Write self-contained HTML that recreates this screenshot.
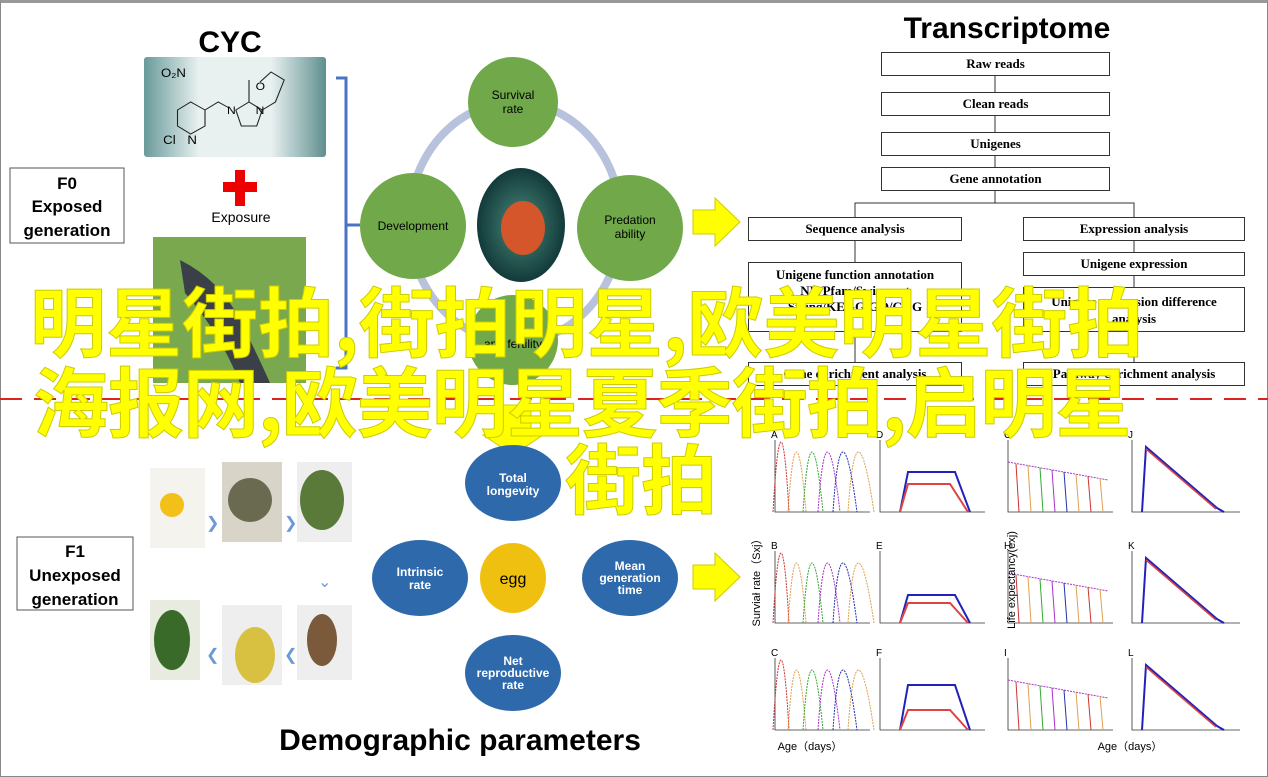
<!DOCTYPE html>
<html><head><meta charset="utf-8"><style>
body{margin:0;width:1268px;height:775px;background:#fff;overflow:hidden;position:relative;font-family:"Liberation Sans",sans-serif}
.a{position:absolute}
.bx{position:absolute;border:1px solid #333;background:#fff;font-family:"Liberation Serif",serif;font-size:13px;font-weight:bold;text-align:center;box-sizing:border-box}
.ov{position:absolute;color:#ffff00;font-family:"Noto Sans CJK SC","WenQuanYi Zen Hei",sans-serif;font-weight:bold;font-size:76px;white-space:nowrap;line-height:1;-webkit-text-stroke:1px #cc0}
</style></head><body>
<div class="a" style="left:0;top:0;width:1266px;height:773px;border:1px solid #888;border-top:3px solid #999"></div>
<svg class="a" style="left:0;top:0" width="1268" height="775">
<defs><linearGradient id="tg" x1="0" x2="1"><stop offset="0" stop-color="#6a9a9a"/><stop offset=".3" stop-color="#e8f0f0"/><stop offset=".7" stop-color="#e8f0f0"/><stop offset="1" stop-color="#5f8f8f"/></linearGradient>
<radialGradient id="lb"><stop offset="0" stop-color="#4a8a7a"/><stop offset="1" stop-color="#123a3a"/></radialGradient></defs>
<text x="230" y="52" font-size="30" font-weight="bold" text-anchor="middle">CYC</text>
<rect x="144" y="57" width="182" height="100" rx="3" fill="url(#tg)"/>
<g transform="translate(40,0) scale(1.1,1)" >
<g stroke="#222" fill="none" stroke-width="1"><path d="M125 110 l12 -8 l13 8 l0 16 l-13 8 l-12 -8z M150 110 l12 -8 l10 6 M178 110 l12 -8 l12 8 l-5 16 l-14 0z M190 102 l0 -22 M202 110 l12 -8 l8 -22 l-12 -8 l-10 10"/></g>
<text x="112" y="144" font-size="12">Cl</text><text x="134" y="144" font-size="12">N</text><text x="110" y="77" font-size="12">O₂N</text><text x="170" y="114" font-size="11">N</text><text x="196" y="114" font-size="11">N</text><text x="196" y="90" font-size="11">O</text></g>
<rect x="10" y="168" width="114" height="75" fill="#fff" stroke="#555"/>
<text x="67" y="189" font-size="17" font-weight="bold" text-anchor="middle">F0</text>
<text x="67" y="212" font-size="17" font-weight="bold" text-anchor="middle">Exposed</text>
<text x="67" y="236" font-size="17" font-weight="bold" text-anchor="middle">generation</text>
<path d="M235 170h10v12h12v10h-12v14h-10v-14h-12v-10h12z" fill="#e00"/>
<text x="241" y="222" font-size="14" text-anchor="middle">Exposure</text>
<rect x="153" y="237" width="153" height="146" fill="#7aa84e"/>
<path d="M180 260 q40 20 60 60 q20 40 30 63 l-30 0 q-20 -50 -55 -90z" fill="#3a3f48"/>
<path d="M336 78 h10 v290 h-10 M346 225 h14" stroke="#4a74c0" stroke-width="3" fill="none"/>
<ellipse cx="515" cy="222" rx="106" ry="120" fill="none" stroke="#b8c2dc" stroke-width="8"/>
<g fill="#70a84a"><circle cx="513" cy="102" r="45"/><circle cx="413" cy="226" r="53"/><circle cx="630" cy="228" r="53"/><circle cx="513" cy="340" r="45"/></g>
<ellipse cx="521" cy="225" rx="44" ry="57" fill="url(#lb)"/>
<ellipse cx="523" cy="228" rx="22" ry="27" fill="#d4562a"/>
<g font-size="12" text-anchor="middle"><text x="513" y="99">Survival</text><text x="513" y="113">rate</text><text x="413" y="230">Development</text><text x="630" y="224">Predation</text><text x="630" y="238">ability</text><text x="513" y="348">and fertility</text></g>
<path d="M693 210h22v-12l25 24l-25 24v-12h-22z" fill="#ff0" stroke="#cc0"/>
<text x="1007" y="38" font-size="30" font-weight="bold" text-anchor="middle">Transcriptome</text>
<g stroke="#333" fill="none"><path d="M995 75v17M995 116v16M995 156v11M995 191v12H855v14M995 203H1134v14M855 241v21M1134 241v11M1134 276v11M855 332v30M1134 332v30"/></g>
<line x1="0" y1="399" x2="1268" y2="399" stroke="#d22" stroke-width="2" stroke-dasharray="22 12"/>
<path d="M495 405h36v30h12l-30 20l-30 -20h12z" fill="#ff0" stroke="#cc0"/>
<rect x="17" y="537" width="116" height="73" fill="#fff" stroke="#555"/>
<text x="75" y="557" font-size="17" font-weight="bold" text-anchor="middle">F1</text>
<text x="75" y="581" font-size="17" font-weight="bold" text-anchor="middle">Unexposed</text>
<text x="75" y="605" font-size="17" font-weight="bold" text-anchor="middle">generation</text>
<g><rect x="150" y="468" width="55" height="80" fill="#f5f3ee"/><circle cx="172" cy="505" r="12" fill="#f2c018"/>
<rect x="222" y="462" width="60" height="80" fill="#d8d4c8"/><circle cx="250" cy="500" r="22" fill="#6a6a50"/>
<rect x="297" y="462" width="55" height="80" fill="#eee"/><ellipse cx="322" cy="500" rx="22" ry="30" fill="#5a7a3a"/>
<rect x="150" y="600" width="50" height="80" fill="#e8ece0"/><ellipse cx="172" cy="640" rx="18" ry="30" fill="#3a6a2a"/>
<rect x="222" y="605" width="60" height="80" fill="#eee"/><ellipse cx="255" cy="655" rx="20" ry="28" fill="#d8c040"/>
<rect x="297" y="605" width="55" height="75" fill="#eee"/><ellipse cx="322" cy="640" rx="15" ry="26" fill="#7a5a3a"/></g>
<g fill="#6a9ad8" font-size="16"><text x="206" y="528">❯</text><text x="284" y="528">❯</text><text x="206" y="660">❮</text><text x="284" y="660">❮</text><text x="318" y="587">⌄</text></g>
<g fill="#2e6aab"><ellipse cx="513" cy="483" rx="48" ry="38"/><ellipse cx="420" cy="578" rx="48" ry="38"/><ellipse cx="630" cy="578" rx="48" ry="38"/><ellipse cx="513" cy="673" rx="48" ry="38"/></g>
<ellipse cx="513" cy="578" rx="33" ry="35" fill="#f0c010"/>
<g fill="#fff" font-size="12" font-weight="bold" text-anchor="middle"><text x="513" y="482">Total</text><text x="513" y="495">longevity</text><text x="420" y="576">Intrinsic</text><text x="420" y="589">rate</text><text x="630" y="570">Mean</text><text x="630" y="582">generation</text><text x="630" y="594">time</text><text x="513" y="665">Net</text><text x="513" y="677">reproductive</text><text x="513" y="689">rate</text></g>
<text x="513" y="584" font-size="16" text-anchor="middle">egg</text>
<path d="M693 565h22v-12l25 24l-25 24v-12h-22z" fill="#ff0" stroke="#cc0"/>
<text x="460" y="750" font-size="30" text-anchor="middle" font-weight="bold">Demographic parameters</text>
<g id="ch"></g>
<text x="810" y="750" font-size="11" text-anchor="middle">Age（days）</text>
<text x="1130" y="750" font-size="11" text-anchor="middle">Age（days）</text>
<text x="760" y="580" font-size="11" text-anchor="middle" transform="rotate(-90 760 580)">Surviał rate（Sxj）</text>
<text x="1015" y="580" font-size="11" text-anchor="middle" transform="rotate(-90 1015 580)">Life expectancy(exj)</text>
</svg>
<div class="bx" style="left:881px;top:52px;width:229px;height:24px;line-height:22px">Raw reads</div>
<div class="bx" style="left:881px;top:92px;width:229px;height:24px;line-height:22px">Clean reads</div>
<div class="bx" style="left:881px;top:132px;width:229px;height:24px;line-height:22px">Unigenes</div>
<div class="bx" style="left:881px;top:167px;width:229px;height:24px;line-height:22px">Gene annotation</div>
<div class="bx" style="left:748px;top:217px;width:214px;height:24px;line-height:22px">Sequence analysis</div>
<div class="bx" style="left:1023px;top:217px;width:222px;height:24px;line-height:22px">Expression analysis</div>
<div class="bx" style="left:748px;top:262px;width:214px;height:70px;padding-top:4px;line-height:16px">Unigene function annotation<br>NR/Pfam/Swissprot<br>String/KEGG/GO/COG</div>
<div class="bx" style="left:1023px;top:252px;width:222px;height:24px;line-height:22px">Unigene expression</div>
<div class="bx" style="left:1023px;top:287px;width:222px;height:45px;padding-top:5px;line-height:17px">Unigene expression difference<br>analysis</div>
<div class="bx" style="left:748px;top:362px;width:214px;height:24px;line-height:22px">Gene enrichment analysis</div>
<div class="bx" style="left:1023px;top:362px;width:222px;height:24px;line-height:22px">Pathway enrichment analysis</div>
<div class="ov" style="left:30px;top:280px;letter-spacing:0px">明星街拍,街拍明星,欧美明星街拍</div>
<div class="ov" style="left:33px;top:360px;letter-spacing:-1px">海报网,欧美明星夏季街拍,启明星</div>
<div class="ov" style="left:565px;top:437px">街拍</div>
<script>
var g=document.getElementById('ch'),s='';
var cols=[775,880,1008,1132],rows=[432,543,650],W=[95,105,105,108],H=80,L='ABCDEFGHIJKL';
var cc=['#c33','#e0a050','#3a3','#a3c','#23a','#e0a050'];
for(var c=0;c<4;c++)for(var r=0;r<3;r++){var x=cols[c],y=rows[r],w=W[c];
s+='<path d="M'+x+' '+(y+8)+'V'+(y+H)+'H'+(x+w)+'" stroke="#333" fill="none" stroke-width=".8"/>';
s+='<text x="'+(x-4)+'" y="'+(y+6)+'" font-size="10">'+L[c*3+r]+'</text>';
if(c==0){for(var k=0;k<6;k++){var cx=x+6+k*15,h=k==0?70:60;s+='<path d="M'+(cx-8)+' '+(y+H)+'Q'+cx+' '+(y+H-h*2)+' '+(cx+8+k*2)+' '+(y+H)+'" stroke="'+cc[k]+'" fill="none" stroke-dasharray="2 1"/>';}}
else if(c==1){var t=[40,28,45][r],m=[28,20,20][r];s+='<path d="M'+(x+20)+' '+(y+H)+'L'+(x+28)+' '+(y+H-t)+'H'+(x+75)+'L'+(x+90)+' '+(y+H)+'" stroke="#22b" fill="none" stroke-width="2"/><path d="M'+(x+20)+' '+(y+H)+'L'+(x+28)+' '+(y+H-m)+'H'+(x+70)+'L'+(x+88)+' '+(y+H)+'" stroke="#d44" fill="none" stroke-width="2"/>';}
else if(c==2){s+='<path d="M'+x+' '+(y+30)+'L'+(x+100)+' '+(y+48)+'" stroke="#a3c" fill="none" stroke-dasharray="2 1"/>';for(var k=0;k<8;k++){var px=x+8+k*12;s+='<line x1="'+px+'" y1="'+(y+32+k*2)+'" x2="'+(px+3)+'" y2="'+(y+H)+'" stroke="'+cc[k%6]+'"/>';}}
else{s+='<path d="M'+(x+10)+' '+(y+H)+'L'+(x+14)+' '+(y+15)+'L'+(x+85)+' '+(y+H-4)+'L'+(x+92)+' '+(y+H)+'" stroke="#22b" fill="none" stroke-width="2"/><path d="M'+(x+14)+' '+(y+17)+'L'+(x+84)+' '+(y+H-3)+'" stroke="#d44" fill="none" stroke-width="1.5"/>';}
}
g.innerHTML=s;
</script>
</body></html>
